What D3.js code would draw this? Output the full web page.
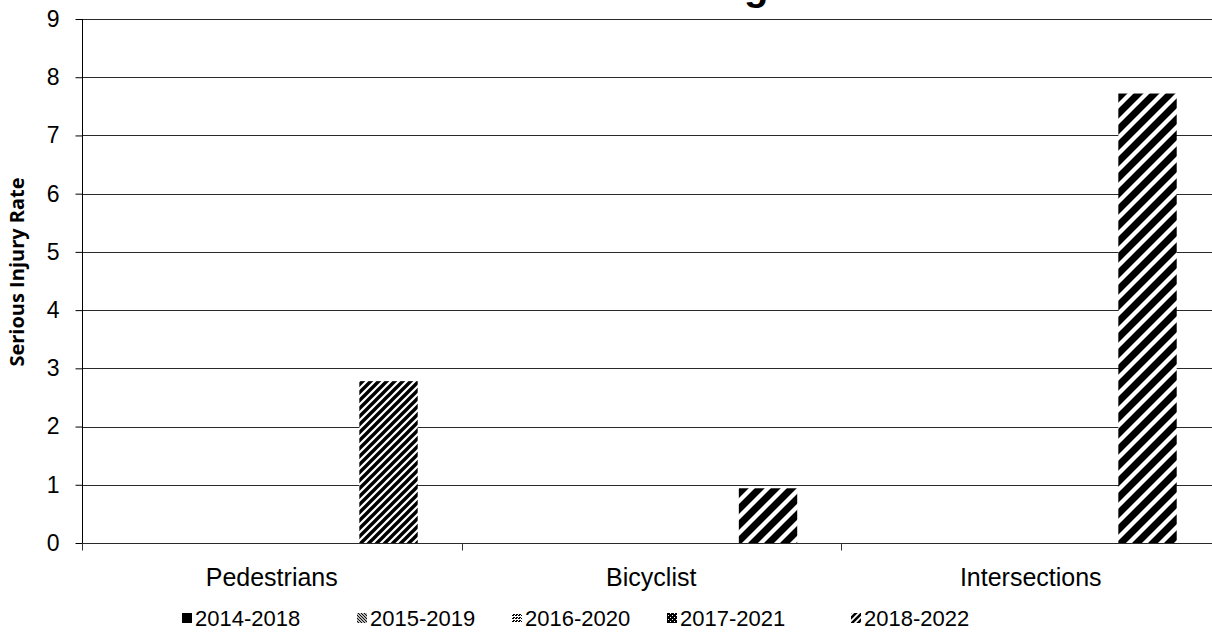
<!DOCTYPE html>
<html>
<head>
<meta charset="utf-8">
<script src="https://cdn.jsdelivr.net/npm/d3@7"></script>
<style>
  html, body { margin: 0; padding: 0; background: #fff; }
  svg { display: block; }
</style>
</head>
<body>
<svg id="chart" width="1212" height="642"></svg>
<script>
// ---- data ----
const categories = ["Pedestrians", "Bicyclist", "Intersections"];
const seriesNames = ["2014-2018", "2015-2019", "2016-2020", "2017-2021", "2018-2022"];
const s2014_2018 = [0, 0, 0];
const s2015_2019 = [0, 0, 0];
const s2016_2020 = [0, 0, 0];
const s2017_2021 = [0, 0, 0];
const s2018_2022 = [2.78, 0.94, 7.72];
const yTicks = [0, 1, 2, 3, 4, 5, 6, 7, 8, 9];
const yTitle = "Serious Injury Rate";
const titleText = "g";

const seriesValues = [s2014_2018, s2015_2019, s2016_2020, s2017_2021, s2018_2022];

// ---- layout ----
const W = 1212, H = 642;
const plot = { left: 82, right: 1220.5, top: 19, bottom: 543 };
const svg = d3.select("#chart");
const defs = svg.append("defs");

// patterns
function stripePattern(id, period, up, frac) {
  const p = defs.append("pattern").attr("id", id)
    .attr("patternUnits", "userSpaceOnUse")
    .attr("width", period).attr("height", period);
  p.append("rect").attr("width", period).attr("height", period).attr("fill", "#fff");
  const sw = frac * period / Math.SQRT2;
  const d = up
    ? `M0,${period} L${period},0 M${-period/2},${period/2} L${period/2},${-period/2} M${period/2},${1.5*period} L${1.5*period},${period/2}`
    : `M0,0 L${period},${period} M${-period/2},${period/2} L${period/2},${1.5*period} M${period/2},${-period/2} L${1.5*period},${period/2}`;
  p.append("path").attr("d", d).attr("stroke", "#000").attr("stroke-width", sw).attr("fill", "none");
}
stripePattern("pUpDense", 8, true, 0.6);
stripePattern("pUpWide", 16, true, 0.62);
stripePattern("pDownSmall", 3, false, 0.5);
stripePattern("pUpSmall", 6, true, 0.6);
// dotted pattern
(function () {
  const p = defs.append("pattern").attr("id", "pDots").attr("patternUnits", "userSpaceOnUse")
    .attr("width", 3).attr("height", 3);
  p.append("rect").attr("width", 3).attr("height", 3).attr("fill", "#fff");
  p.append("rect").attr("x", 0).attr("y", 0).attr("width", 2).attr("height", 1).attr("fill", "#000");
  p.append("rect").attr("x", 1).attr("y", 2).attr("width", 2).attr("height", 1).attr("fill", "#000");
})();
// weave pattern
(function () {
  const p = defs.append("pattern").attr("id", "pWeave").attr("patternUnits", "userSpaceOnUse")
    .attr("width", 4).attr("height", 4);
  p.append("rect").attr("width", 4).attr("height", 4).attr("fill", "#000");
  p.append("rect").attr("x", 1).attr("y", 1).attr("width", 1).attr("height", 1).attr("fill", "#fff");
  p.append("rect").attr("x", 3).attr("y", 3).attr("width", 1).attr("height", 1).attr("fill", "#fff");
})();

const seriesFill = ["#000", "url(#pDownSmall)", "url(#pDots)", "url(#pWeave)", null];
const lastSeriesFillByCat = ["url(#pUpDense)", "url(#pUpWide)", "url(#pUpWide)"];
const legendFill = ["#000", "url(#pDownSmall)", "url(#pDots)", "url(#pWeave)", "url(#pUpSmall)"];

// scales
const x0 = d3.scaleBand().domain(categories).range([plot.left, plot.right]).padding(0);
const bw = x0.bandwidth();
const gap = bw * 1.5 / 6.5;
const x1 = d3.scaleBand().domain(seriesNames).range([gap / 2, bw - gap / 2]).padding(0);
const y = d3.scaleLinear().domain([0, 9]).range([plot.bottom, plot.top]);

// gridlines
svg.append("g").selectAll("line").data(yTicks).join("line")
  .attr("x1", plot.left).attr("x2", W)
  .attr("y1", d => Math.round(y(d)) + 0.5).attr("y2", d => Math.round(y(d)) + 0.5)
  .attr("stroke", "#2a2a2a").attr("stroke-width", 1.2);

// bars
const rows = [];
categories.forEach((c, ci) => {
  seriesNames.forEach((s, si) => {
    rows.push({ c, ci, s, si, v: seriesValues[si][ci] });
  });
});
svg.append("g").selectAll("rect").data(rows.filter(r => r.v > 0)).join("rect")
  .attr("x", d => x0(d.c) + x1(d.s))
  .attr("width", x1.bandwidth())
  .attr("y", d => y(d.v))
  .attr("height", d => y(0) - y(d.v))
  .attr("fill", d => d.si === 4 ? lastSeriesFillByCat[d.ci] : seriesFill[d.si]);

// y axis
const yAxis = d3.axisLeft(y).tickValues(yTicks).tickSize(7).tickPadding(16).tickFormat(d3.format("d"));
const gy = svg.append("g").attr("transform", `translate(${plot.left + 0.5},0)`).call(yAxis);
gy.select(".domain").remove();
gy.append("line").attr("x1", 0).attr("x2", 0).attr("y1", plot.top).attr("y2", plot.bottom + 7).attr("stroke", "#000");
gy.selectAll(".tick line").attr("stroke", "#000");
gy.selectAll(".tick text").attr("font-family", "Liberation Sans, Arial, sans-serif").attr("font-size", 23).attr("fill", "#000");

// x axis
const gx = svg.append("g").attr("transform", `translate(0,${Math.round(plot.bottom) + 0.5})`);
gx.append("line").attr("x1", plot.left).attr("x2", W).attr("stroke", "#2a2a2a").attr("stroke-width", 1.2);
const boundaries = categories.map(c => x0(c)).concat([plot.right]);
gx.selectAll("line.tk").data(boundaries).join("line").attr("class", "tk")
  .attr("x1", d => Math.round(d) + 0.5).attr("x2", d => Math.round(d) + 0.5)
  .attr("y1", 0).attr("y2", 7).attr("stroke", "#333");
gx.selectAll("text").data(categories).join("text")
  .attr("x", d => x0(d) + bw / 2).attr("y", 42)
  .attr("text-anchor", "middle")
  .attr("font-family", "Liberation Sans, Arial, sans-serif").attr("font-size", 25)
  .text(d => d);

// y title
svg.append("text")
  .attr("transform", `translate(24,${(plot.top + plot.bottom) / 2 - 9}) rotate(-90)`)
  .attr("text-anchor", "middle")
  .attr("font-family", "Open Sans, sans-serif").attr("font-weight", "bold").attr("font-size", 20)
  .text(yTitle);

// title (clipped at top of page, as in the reference)
svg.append("text").attr("x", 744).attr("y", 0)
  .attr("font-family", "Liberation Sans, Arial, sans-serif").attr("font-weight", "bold").attr("font-size", 40)
  .text(titleText);

// legend
const legendX = [182, 357, 512, 667, 851];
const lg = svg.append("g").attr("transform", "translate(0,618)");
const items = lg.selectAll("g").data(seriesNames).join("g")
  .attr("transform", (d, i) => `translate(${legendX[i]},0)`);
items.append("rect").attr("x", 0).attr("y", -5).attr("width", 10).attr("height", 10)
  .attr("fill", (d, i) => legendFill[i]);
items.append("text").attr("x", 13).attr("y", 7.5)
  .attr("font-family", "Liberation Sans, Arial, sans-serif").attr("font-size", 22)
  .text(d => d);
</script>
</body>
</html>
